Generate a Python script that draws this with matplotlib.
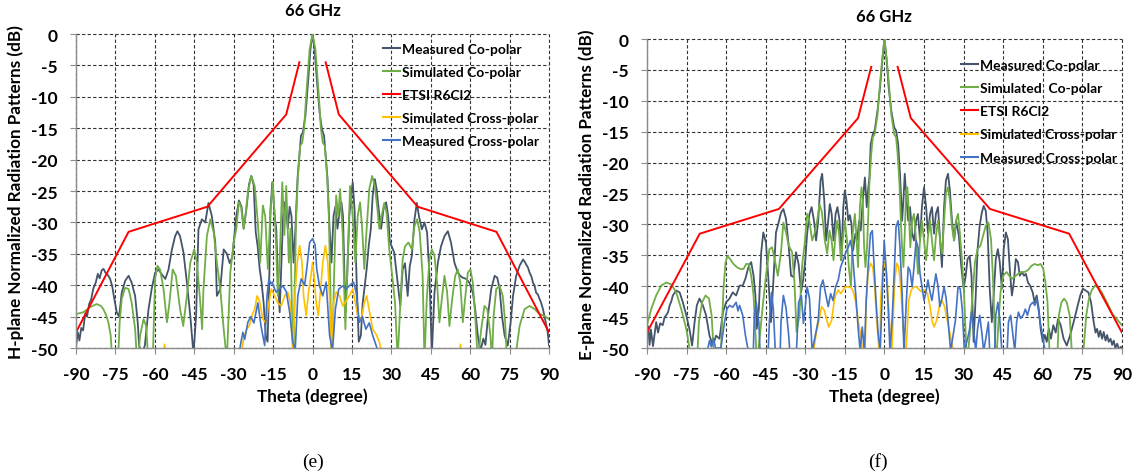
import numpy as np
import matplotlib
matplotlib.use('Agg')
import matplotlib.pyplot as plt

plt.rcParams['font.family'] = ['Lato', 'DejaVu Sans']
plt.rcParams['font.weight'] = 'bold'
plt.rcParams['axes.unicode_minus'] = False

# ETSI R6Cl2 mask (same on both planes), gap in the middle
etsi_theta = [-90, -70, -40, -10, -5, np.nan, 5, 10, 40, 70, 90]
etsi_db = [-47.5, -31.5, -27.5, -12.8, -4.5, np.nan, -4.5, -12.8, -27.5, -31.5, -47.5]

# ---------------- H-plane (e) ----------------
h_meas_co = [
    (-90, -49.8), (-89.3, -47.5), (-88.7, -48.8), (-88, -46.8), (-87.3, -47.2), (-86.5, -44.5),
    (-85.8, -45), (-85, -43), (-84.2, -42.2), (-83.4, -40.5), (-82.5, -39.6), (-81.7, -38.2),
    (-81, -38.9), (-80.2, -37.6), (-79.5, -37.4), (-78.8, -38), (-78, -38.3), (-77, -39),
    (-76.2, -40.2), (-75.5, -42), (-74.5, -44.3), (-73.6, -45), (-72.6, -41.2), (-71.3, -39.3),
    (-70, -38.5), (-68.8, -39.6), (-67.5, -41.7), (-66.5, -46), (-66, -49.5), (-65, -51),
    (-63.8, -49.6), (-62.4, -43.8), (-61.2, -40.6), (-59.9, -38), (-58.6, -37.5), (-57.3, -38.3),
    (-56, -39), (-54.8, -37.5), (-53.5, -34.3), (-52.3, -32.2), (-51.4, -31.4), (-50.4, -32.2),
    (-49.1, -34.8), (-47.8, -39.6), (-46.5, -44.9), (-45.3, -51), (-44.3, -44.9), (-43.4, -31.1),
    (-42.1, -29.5), (-40.8, -30), (-39.6, -26.9), (-38.3, -29), (-37, -33.2), (-36.4, -41.7),
    (-35.1, -40.6), (-33.8, -34.3), (-32.6, -35), (-31.5, -36.5), (-30.5, -35.5), (-30, -33.2),
    (-29, -29), (-28, -26.5), (-27, -27.5), (-26.2, -31), (-25.2, -28), (-24.2, -24),
    (-23.3, -22.6), (-22.4, -24), (-21.6, -31.6), (-20.9, -33.7), (-20.1, -37.4), (-19.4, -39.5),
    (-18.6, -42.8), (-17.8, -48), (-17.1, -49), (-16.5, -40), (-16, -28), (-15.3, -23.6),
    (-14.4, -29), (-13.8, -31), (-13.2, -38.5), (-12.5, -44.3), (-11.8, -36), (-11.2, -29),
    (-10.6, -26.8), (-10, -28.5), (-9.4, -31), (-8.7, -27.5), (-8, -29), (-7.2, -36.4),
    (-6.5, -31), (-5.7, -23), (-5.2, -20.4), (-4.4, -16.2), (-3.7, -15.7), (-2.7, -13),
    (-1.6, -7.2), (-0.8, -2.5), (0, 0), (0.8, -2.5), (1.6, -7), (2.7, -12.5),
    (3.6, -15.2), (4.4, -16.2), (5.2, -20.4), (5.7, -23), (6.5, -31), (7.2, -36.4),
    (8, -29), (8.7, -27.5), (9.5, -31), (10.2, -28.5), (11, -26.8), (11.6, -29),
    (12.5, -44.3), (13.2, -38.5), (14, -29), (14.7, -25.7), (15.3, -23.6), (16, -28),
    (16.8, -39.5), (17.6, -49), (18.4, -48), (19.1, -42.8), (19.9, -40), (20.6, -37.4),
    (21.4, -33.7), (22.2, -31), (22.9, -25.7), (23.7, -23.1), (24.4, -24.7), (25.2, -28),
    (26.1, -31), (27, -27.9), (28, -26.8), (28.8, -29), (29.4, -33), (30.3, -34),
    (31.1, -34.8), (32.4, -39.6), (33.4, -43.3), (34.3, -37.5), (35.2, -36.5), (36.2, -41.7),
    (37, -37), (37.8, -35.3), (38.8, -29.5), (39.7, -26.9), (40.5, -29), (41.6, -31.1),
    (42.6, -30), (43.6, -31.6), (44.5, -38.5), (45.4, -51), (46.4, -41.2), (47.7, -36.4),
    (48.9, -33.8), (50.2, -32.2), (51.5, -31.4), (52.7, -33.2), (54, -36.4), (55.3, -38),
    (56.2, -38.5), (57.2, -38.8), (58.5, -39), (59.7, -39.6), (61, -41.2), (61.9, -43.8),
    (62.9, -48), (63.9, -50.5), (65, -48.5), (65.8, -49.5), (67, -44), (68, -40.6),
    (69.3, -38.5), (70.3, -38.8), (71.2, -40.6), (72.1, -44.9), (73.1, -48), (74.3, -49.6),
    (75.4, -45.9), (76.3, -41.7), (77.5, -38.5), (78.8, -36.9), (80.1, -35.9), (80.8, -36.3),
    (81.3, -36.7), (82, -37.2), (82.6, -38), (83.3, -38.6), (83.9, -39.6), (84.5, -40.1),
    (85.1, -41.2), (85.8, -41.5), (86.4, -42.2), (87, -42.8), (87.7, -43.8), (88.3, -45),
    (89, -46.5), (89.5, -47.5), (90, -49.6),
]

h_sim_co = [
    (-90, -44.6), (-87.2, -44.3), (-84.7, -43.5), (-82.1, -43), (-80.5, -43.3), (-79.6, -43.8),
    (-78.5, -44.8), (-77.7, -45.9), (-76.8, -48), (-76.2, -52), (-74, -52), (-73.4, -46),
    (-72.6, -42.2), (-71.3, -40.4), (-70, -40.6), (-68.8, -42.8), (-67.5, -47), (-66.8, -52),
    (-66, -50), (-65.6, -48), (-64.3, -45.4), (-63.3, -46.5), (-62.5, -52), (-60.8, -52),
    (-59.9, -39), (-59, -36.9), (-58, -37.5), (-56.7, -40.6), (-55.4, -45.9), (-54.5, -43),
    (-53.2, -37.5), (-52, -38.5), (-50.4, -43.8), (-49.2, -46.5), (-47.8, -41.7), (-46.5, -36.4),
    (-45, -34.3), (-44, -36.4), (-42.7, -42.8), (-42, -47), (-41.5, -40.6), (-40.2, -32.2),
    (-38.9, -29.5), (-37.6, -31.6), (-36.4, -36.4), (-35.1, -40.6), (-33.8, -47), (-32.6, -52),
    (-31.3, -38), (-30, -33.2), (-29, -31), (-28, -26.8), (-27.2, -27.5), (-26.2, -31),
    (-25.4, -28.5), (-24.6, -25.2), (-23.3, -22.6), (-22, -24.2), (-20.8, -30), (-19.9, -36.4),
    (-18.9, -27.3), (-18, -29), (-17, -37.4), (-16.1, -29), (-15.1, -23.6), (-14, -32),
    (-13.2, -41.7), (-12.5, -36), (-11.5, -23.6), (-10.7, -32), (-10, -24.2), (-9, -36.4),
    (-8.4, -31), (-7.7, -47), (-7.2, -52), (-6.8, -40.6), (-6.2, -28.9), (-5.6, -23),
    (-4.7, -17.8), (-3.9, -17.3), (-3.2, -15.1), (-2.4, -9.8), (-1.1, -2.4), (0, 0),
    (1.1, -2.4), (2.4, -9.8), (3.2, -15.1), (3.9, -17.3), (4.7, -17.8), (5.6, -23),
    (6.2, -28.9), (6.8, -40.6), (7.2, -52), (7.7, -47), (8.3, -37), (9, -25.7),
    (9.8, -29), (10.5, -24.7), (11.5, -32), (12.5, -47), (13.3, -37), (14.3, -24.2),
    (15.3, -29), (16.3, -36.4), (17.2, -29), (18.1, -26.8), (18.9, -31), (19.7, -37.4),
    (20.6, -31), (21.6, -24.7), (22.7, -22.6), (23.7, -24.2), (24.7, -27.9), (25.4, -31),
    (26.3, -29), (27.3, -26.9), (28.2, -28.5), (29.2, -34.3), (30.2, -38), (31.4, -42.8),
    (32.4, -52), (33.4, -43), (34.3, -35.9), (35.2, -33.8), (36.5, -33.2), (37.8, -34.3),
    (38.8, -30.6), (39.8, -29.5), (40.8, -31.6), (41.9, -38.5), (42.6, -52), (43.5, -42),
    (44.5, -35.9), (45.4, -34.3), (46.4, -35.3), (47.4, -39.6), (48.3, -45.9), (49.2, -42.2),
    (50.2, -38.5), (51.2, -41), (52.1, -46.5), (53.2, -42), (54.3, -38.5), (55.3, -37.5),
    (56.2, -39.5), (57.2, -45.9), (58.1, -42), (59.1, -38), (60.1, -37.5), (61, -39.6),
    (61.9, -44.9), (62.9, -52), (64.2, -47), (65.4, -43.3), (66.5, -43.8), (67.7, -48),
    (68.3, -52), (68.9, -45), (69.9, -40.6), (71.2, -40.1), (72.4, -41.7), (73.3, -45.9),
    (74, -52), (77.5, -50.5), (78.8, -46.5), (80.7, -43.8), (82.6, -43.3), (84.5, -43.8),
    (86.4, -44.6), (88.3, -44.9), (90, -45.4),
]

h_sim_cross = [
    (-57, -52), (-56.3, -49.4), (-55.6, -52), (-27.5, -52), (-27, -50.5), (-26, -48),
    (-25, -47), (-24, -46.4), (-22.8, -44.5), (-22, -43.8), (-21.1, -41.7), (-20.2, -42.5),
    (-18.9, -45.4), (-17.8, -46), (-16.6, -42.8), (-15.7, -40.6), (-14.4, -41.7), (-13.2, -42.8),
    (-11.9, -43.3), (-10.6, -41.7), (-9.4, -41.1), (-8.5, -42.8), (-7.5, -51), (-6.6, -41),
    (-5.8, -36.4), (-4.9, -33.7), (-4, -36.4), (-3.4, -41.7), (-2.4, -44.8), (-1.5, -41),
    (-0.6, -38.5), (0, -36.4), (0.6, -38.5), (1.4, -42.8), (2.2, -44.8), (3, -41),
    (3.9, -36.4), (4.9, -33.7), (5.8, -36.4), (6.5, -42), (7.2, -51), (8, -42.8),
    (9, -41.1), (10.3, -41.7), (11.5, -43.3), (12.8, -42.5), (14, -41.7), (15.3, -40.6),
    (16.3, -42.8), (17.2, -44.8), (18.5, -45.5), (19.7, -42.8), (20.6, -41.7), (21.6, -44),
    (22.9, -47), (24.2, -47.8), (25.4, -49), (26.5, -51), (55.6, -52), (56.3, -49.4),
    (57, -52),
]

h_meas_cross = [
    (-28, -51), (-27.2, -49), (-26.5, -47.5), (-25.8, -48.6), (-24.6, -45.9), (-23.5, -45),
    (-22.3, -46), (-20.8, -42.8), (-19.6, -46.5), (-18.2, -49.6), (-17.3, -41.7), (-16.6, -39),
    (-15.9, -39.8), (-15.3, -39.5), (-14.5, -40.5), (-13.8, -41.1), (-12.6, -40.6), (-11.3, -40.1),
    (-10, -41), (-8.7, -44.3), (-7.5, -49), (-6.6, -50.5), (-5.6, -41.7), (-4.3, -39),
    (-3, -40), (-2.2, -37.4), (-1.1, -33.2), (0, -32.6), (1, -33.6), (1.6, -37.4),
    (2.6, -40), (3.9, -41.7), (5.2, -39.5), (6.5, -48), (7.6, -50.5), (8.7, -43.8),
    (10, -40.6), (11.5, -40.1), (12.8, -40.6), (14, -40.1), (15.6, -39.5), (16.6, -41.1),
    (17.2, -43.5), (17.8, -45.9), (19, -45), (20.3, -47), (21.6, -46), (22.9, -48),
    (24.2, -49.6), (25.4, -51),
]

# ---------------- E-plane (f) ----------------
e_meas_co = [
    (-90, -48), (-89.5, -46.5), (-89, -49.5), (-88.5, -47), (-87.7, -49.7), (-87, -47.5),
    (-86.5, -45.8), (-85.8, -47.5), (-85, -46), (-84, -46.3), (-83.3, -45), (-82.7, -44.7),
    (-82, -44.2), (-81.4, -43.1), (-80.8, -42.5), (-80.2, -41.5), (-78.9, -40.7), (-77.6, -41),
    (-76.4, -42.6), (-75.1, -44.7), (-73.9, -46.9), (-72.9, -49.6), (-72, -46), (-71.1, -43.1),
    (-70.1, -42), (-68.8, -43.1), (-67.6, -44.7), (-66.3, -48), (-65, -49.6), (-63.8, -48),
    (-62.5, -48.5), (-61.2, -44.2), (-60, -42.6), (-58.7, -42), (-57.5, -41), (-56.2, -41.5),
    (-54.9, -39.9), (-53.7, -39.9), (-52.7, -38.8), (-51.4, -36.7), (-50.5, -36.1), (-49.6, -38.3),
    (-48.9, -41.5), (-48.4, -46.9), (-47.6, -43.7), (-46.7, -34.5), (-45.9, -31.3), (-44.9, -32.9),
    (-43.9, -39.4), (-43, -45.8), (-42.2, -40), (-41.1, -31.3), (-40.1, -29.7), (-39.2, -28.1),
    (-38.3, -27.5), (-37.3, -29.1), (-36.3, -33.4), (-35.4, -38.3), (-34.5, -38.5), (-33.5, -34.5),
    (-32.5, -36.5), (-31.6, -41), (-30.8, -39), (-30, -35.8), (-29.3, -31.5), (-28.4, -28.3),
    (-27.6, -27.2), (-26.7, -29.4), (-25.9, -32.6), (-25.1, -29.4), (-24.2, -22.9), (-23.6, -21.8),
    (-22.8, -26.1), (-22.1, -32.6), (-21.3, -29.4), (-20.7, -26.7), (-20, -28.3), (-19.3, -32.6),
    (-18.5, -28.3), (-17.8, -27.2), (-17, -29.4), (-16.3, -35.8), (-15.6, -27.2), (-15, -24.5),
    (-14.4, -26.1), (-13.7, -29.4), (-13.1, -28.5), (-12.5, -29.9), (-11.9, -34.2), (-11, -31.5),
    (-10.3, -32.5), (-9.6, -29.4), (-9, -31), (-8.2, -26.1), (-7.4, -22.4), (-6.7, -27.2),
    (-6.1, -24), (-5.7, -22.4), (-5.2, -17), (-4.4, -15.4), (-3.7, -14.8), (-2.6, -11.5),
    (-1.6, -7.5), (-0.8, -3.5), (0, 0), (0.8, -3.2), (1.6, -7.8), (2.6, -11.6),
    (3.7, -14.3), (4.4, -14.8), (5.2, -17), (5.9, -21.8), (6.7, -29.4), (7.2, -26),
    (7.7, -21.8), (8.2, -25), (9, -29.4), (9.7, -27.2), (10.5, -31.5), (11.2, -32.6),
    (12, -29.4), (12.7, -28.3), (13.5, -32.6), (14.2, -27.2), (15, -24), (15.8, -27.2),
    (16.5, -31.5), (17.3, -28.3), (18, -27.2), (18.8, -31.5), (19.5, -28.3), (20.3, -27.2),
    (21.1, -32.6), (21.8, -36.9), (22.6, -27.2), (23.3, -22.9), (24.1, -21.8), (24.8, -24.5),
    (25.6, -29.4), (26.4, -32.6), (27.2, -29.5), (28.2, -31.8), (29.1, -36.7), (30, -40.4),
    (30.8, -38.3), (31.5, -35.6), (32.3, -35.1), (33, -38.3), (33.8, -49), (34.6, -41.5),
    (35.3, -34), (36.1, -30.2), (36.9, -28.1), (37.6, -27), (38.4, -27.8), (39.1, -31.3),
    (39.9, -40.4), (40.7, -45.8), (41.4, -41.5), (42.2, -35.6), (43, -34), (43.7, -36.1),
    (44.5, -40.4), (45.2, -34), (46, -31.3), (46.8, -32.4), (47.5, -37.2), (48.3, -41.5),
    (49, -39.5), (49.8, -35.6), (50.6, -36.1), (51.3, -38.3), (52.1, -37.7), (52.9, -38.3),
    (53.6, -38), (54.4, -39.4), (55.2, -39.9), (56.2, -41), (56.9, -42.6), (57.7, -41.5),
    (58.5, -43.7), (59.2, -46.9), (60, -49), (60.8, -47.9), (61.5, -49), (62.3, -46.9),
    (63.1, -48.5), (64, -46.3), (64.9, -47.5), (65.8, -45.3), (66.8, -46.3), (67.9, -48.5),
    (69.1, -49.6), (70.4, -47.9), (71.7, -45.8), (72.9, -43.7), (74.2, -41.5), (75.2, -40.4),
    (76.3, -40.7), (77.3, -41), (78.3, -42.6), (79.3, -45.8), (80, -47.5), (80.6, -46.9),
    (81.2, -48.2), (81.8, -47.2), (82.5, -48.5), (83.1, -47.4), (83.8, -48.8), (84.4, -47.9),
    (85, -49), (85.7, -48.5), (86.3, -49.5), (86.9, -48.8), (87.5, -50), (88.2, -49.3),
    (88.9, -50.2), (89.7, -49.8), (90, -50.5),
]

e_sim_co = [
    (-90, -46.3), (-88.4, -43.7), (-86.5, -41.5), (-84.6, -39.9), (-82.7, -39.4), (-80.8, -39.7),
    (-78.9, -41), (-77, -43.7), (-75.1, -46.9), (-73.9, -50), (-73.5, -52), (-71, -52),
    (-70.3, -45.8), (-69.1, -42.6), (-67.8, -41.5), (-66.5, -42), (-65.5, -44.7), (-64.8, -50),
    (-64.5, -52), (-62.2, -52), (-61.9, -50), (-61, -40.4), (-60.2, -36.1), (-59.5, -35.1),
    (-58.5, -35.6), (-57.2, -36.4), (-56, -36.9), (-54.7, -37.2), (-53.4, -37.2), (-52.4, -36.4),
    (-51.4, -36.4), (-50.5, -38.3), (-49.6, -41.5), (-48.6, -50), (-48.2, -52), (-47.2, -48),
    (-46.1, -43.1), (-44.9, -38.3), (-43.6, -34), (-42.6, -33.7), (-41.6, -35.6), (-40.4, -38.3),
    (-39.2, -34.5), (-38.3, -29.7), (-37.3, -31.3), (-36.3, -33.4), (-35, -34.5), (-34.1, -39.4),
    (-33.3, -47.4), (-32.2, -44.7), (-31.2, -36.7), (-30.2, -33), (-29.3, -28.3), (-28.4, -29.5),
    (-27.4, -32.6), (-26.5, -31.5), (-25.5, -29.4), (-24.6, -26.7), (-23.7, -28), (-22.6, -32.6),
    (-21.7, -34.7), (-20.8, -31), (-20, -32.6), (-19.3, -35.8), (-18.6, -32), (-17.9, -29.4),
    (-17.2, -31.5), (-16.5, -35.8), (-15.8, -32.5), (-15, -29.4), (-14.2, -32.5), (-13.5, -36.9),
    (-12.7, -40.1), (-12, -31.5), (-11.2, -28.3), (-10.6, -32), (-10, -36.9), (-9.3, -27.2),
    (-8.7, -24), (-8.2, -26), (-7.7, -33.7), (-7.2, -36.9), (-6.6, -33.7), (-6.2, -29.4),
    (-5.7, -23.4), (-5, -18.6), (-4.4, -15.9), (-3.7, -15.4), (-2.6, -12.2), (-1.8, -7.8),
    (-0.9, -3.5), (0, 0), (0.9, -3.5), (1.8, -7.8), (2.6, -12.2), (3.7, -15.4),
    (4.4, -15.9), (5, -18.6), (5.7, -23.4), (6.2, -29.4), (6.7, -33.7), (7.2, -36.9),
    (7.7, -31.5), (8.2, -24.5), (8.7, -24), (9.2, -27.5), (9.8, -33.7), (10.5, -29.4),
    (11.2, -28.3), (12, -32.6), (12.7, -38), (13.5, -32.5), (14.2, -29.4), (15, -32.6),
    (15.8, -35.8), (16.5, -32), (17.3, -29.4), (18, -32.6), (18.8, -35.8), (19.5, -32),
    (20.3, -29.4), (21.1, -32.6), (21.8, -34.7), (22.6, -29.4), (23.3, -25), (24.1, -24),
    (24.8, -26.1), (25.6, -30.4), (26.4, -32.6), (27.1, -29.4), (27.9, -28.3), (28.6, -31.5),
    (29.4, -35.8), (30.1, -40.5), (31, -50), (31.4, -52), (32.3, -48), (33.3, -42),
    (34.3, -36.1), (35.3, -34), (36.4, -33.4), (37.4, -31.8), (38.4, -30.2), (39.4, -29.7),
    (40.4, -32.4), (41.2, -39.4), (42, -50), (42.4, -52), (43.2, -46), (44, -41),
    (45, -38.3), (46.3, -37.7), (47.3, -38.3), (48.3, -38.8), (49.3, -38.5), (50.6, -38),
    (51.9, -37.7), (53.1, -37.7), (54.4, -37.4), (55.7, -36.7), (56.9, -36.4), (58.2, -36.6),
    (59.2, -36.4), (60.2, -37.2), (61, -39.4), (61.8, -42.6), (62.5, -50), (62.8, -52),
    (65.5, -52), (66.1, -44.7), (67.1, -42.6), (68.1, -42), (69.1, -42.6), (70.2, -44.7),
    (70.9, -50), (71.2, -52), (75.2, -52), (75.5, -50), (76.5, -44.7), (77.5, -42),
    (78.5, -40.7), (79.8, -39.9), (81.1, -40.2), (82.4, -41), (83.6, -42), (84.9, -43.1),
    (86.4, -44.5), (88, -45.3), (90, -46.3),
]

e_sim_cross = [
    (-27, -52), (-26.7, -50), (-25.8, -47.5), (-24.8, -45.5), (-23.8, -43.3), (-22.8, -43.9),
    (-21.8, -45.5), (-21.1, -46.6), (-20, -45.5), (-19, -42.3), (-18.3, -41.2), (-17.5, -40.6),
    (-16.6, -41.2), (-15.6, -40.6), (-14.8, -40.1), (-13.7, -40.1), (-12.8, -40.2), (-12, -40.6),
    (-11, -42.3), (-10, -45.5), (-9.1, -47.6), (-8.4, -50), (-8, -52), (-7.3, -50),
    (-6.9, -42.3), (-6.2, -38), (-5.3, -36.3), (-4.4, -36.9), (-3.7, -40.1), (-2.9, -45.5),
    (-2.1, -50), (-1.8, -52), (-1.4, -42.3), (-0.6, -36.9), (0.1, -36.3), (0.9, -38),
    (1.6, -43.3), (2.4, -50), (2.7, -52), (3.2, -46), (3.9, -39), (4.7, -36.3),
    (5.4, -36.9), (6.2, -40.1), (6.9, -45.5), (7.7, -50), (8, -52), (8.5, -48),
    (9.2, -42.3), (10.2, -40.6), (11.2, -40.1), (12.2, -40.1), (13.2, -40.6), (14.2, -40.9),
    (15.3, -40.6), (16.3, -41.2), (17.3, -43.3), (18, -45.5), (18.8, -46.6), (19.8, -45.5),
    (20.8, -43.3), (21.8, -42.3), (22.8, -43.3), (23.8, -45.5), (24.8, -47.6), (25.9, -50),
    (26.2, -52),
]

e_meas_cross = [
    (-67, -52), (-66.9, -50), (-66.3, -48.8), (-65.6, -49.8), (-64.8, -48.5), (-64, -50),
    (-62, -50), (-60.6, -45.8), (-59.7, -43.7), (-58.7, -43.1), (-57.5, -43.4), (-56.2, -42.6),
    (-55.5, -44), (-54.9, -43.1), (-53.7, -44.7), (-52.7, -47.9), (-51.8, -50), (-51.5, -52),
    (-49.8, -52), (-49.3, -44.7), (-48.6, -42.6), (-47.6, -45.8), (-47, -52), (-44.2, -52),
    (-43.6, -45.8), (-42.8, -41), (-42.1, -43.7), (-41.2, -52), (-39.6, -52), (-39.2, -45.8),
    (-38.3, -41.5), (-37.3, -43.5), (-36.3, -47.9), (-35.6, -52), (-33.5, -52), (-32.5, -42.6),
    (-31.5, -41.5), (-30.7, -46), (-30, -43.3), (-29.3, -40.1), (-28.4, -42), (-27.4, -50.5),
    (-26.2, -48), (-25.1, -45.5), (-24.2, -40.1), (-23.3, -39), (-22.3, -41.2), (-21.3, -43.3),
    (-20.4, -41.2), (-19.5, -42.3), (-18.5, -40.1), (-17.5, -39), (-16.6, -36.9), (-15.6, -35.8),
    (-14.8, -34.7), (-13.7, -33.7), (-12.9, -32.6), (-12.2, -34.2), (-11.5, -38), (-10.7, -42.3),
    (-10, -46.6), (-9.2, -50.5), (-8.4, -46.6), (-7.6, -50.5), (-6.9, -42.3), (-6.2, -36.9),
    (-5.3, -31.5), (-4.6, -31), (-3.9, -36.9), (-3.2, -42.3), (-2.4, -47.6), (-1.6, -50.5),
    (-0.9, -42.3), (-0.1, -32.6), (0.6, -36.9), (1.4, -43.3), (2.1, -50.5), (2.9, -45.5),
    (3.7, -38), (4.4, -30.4), (5.2, -29.4), (5.9, -33.7), (6.7, -41.2), (7.4, -50.5),
    (8.2, -43.3), (9, -36.9), (9.7, -37.5), (10.5, -40.1), (11.2, -36.9), (12, -32.6),
    (12.7, -33.7), (13.5, -38), (14.2, -40), (15, -42.3), (15.7, -41), (16.5, -39),
    (17.3, -41), (18, -42.3), (18.8, -40), (19.5, -38), (20.3, -40), (21, -43.3),
    (21.8, -42), (22.6, -40.1), (23.4, -42), (24.1, -45.5), (25.1, -50.5), (26, -48),
    (26.9, -45.5), (27.9, -40.1), (28.7, -40.4), (29.5, -43.7), (30.3, -50.5), (31.5, -48.5),
    (32.3, -46.9), (33, -44.2), (33.8, -47), (34.6, -50.5), (35.3, -46.9), (36.1, -44.7),
    (36.9, -47.5), (37.6, -50.5), (38.6, -48), (39.4, -45.8), (39.9, -50.5), (41.8, -50.5),
    (42.2, -44.7), (43, -42.6), (43.7, -45.3), (44.5, -50.5), (46.5, -50.5), (47, -45.8),
    (47.8, -44.7), (48.6, -47.5), (49.4, -50.5), (50.1, -45.8), (50.8, -44.2), (51.6, -45.2),
    (52.6, -44.7), (53.4, -43.7), (54.2, -44.7), (55.2, -43.1), (56.2, -42.6), (57, -43.1),
    (57.7, -42), (58.5, -44.2), (59.2, -46.3), (60, -47.9), (60.8, -50.5),
]

h_labels = ['Measured Co-polar', 'Simulated Co-polar', 'ETSI R6Cl2',
            'Simulated Cross-polar', 'Measured Cross-polar']
e_labels = ['Measured Co-polar', 'Simulated  Co-polar', 'ETSI R6Cl2',
            'Simulated Cross-polar', 'Measured Cross-polar']

c_meas_co = '#44546A'
c_sim_co = '#70AD47'
c_etsi = '#FF0000'
c_sim_x = '#FFC000'
c_meas_x = '#4472C4'


def draw_panel(ax, meas_co, sim_co, sim_x, meas_x, labels, ylabel, leg_xy, title_pad):
    th, db = np.array(meas_co).T
    ax.plot(th, db, color=c_meas_co, lw=1.3, label=labels[0])
    th, db = np.array(sim_co).T
    ax.plot(th, db, color=c_sim_co, lw=1.3, label=labels[1])
    ax.plot(etsi_theta, etsi_db, color=c_etsi, lw=1.4, label=labels[2])
    th, db = np.array(sim_x).T
    ax.plot(th, db, color=c_sim_x, lw=1.2, label=labels[3])
    th, db = np.array(meas_x).T
    ax.plot(th, db, color=c_meas_x, lw=1.2, label=labels[4])

    ax.set_xlim(-90, 90)
    ax.set_ylim(-50, 0)
    ax.set_xticks(range(-90, 91, 15))
    ax.set_yticks(range(-50, 1, 5))
    ax.tick_params(axis='x', direction='out', length=4, width=0.8, color='#8c8c8c',
                   labelsize=12.5, pad=9)
    ax.tick_params(axis='y', direction='out', length=4, width=0.8, color='#8c8c8c',
                   labelsize=12.5, pad=9)
    for lab in ax.get_xticklabels() + ax.get_yticklabels():
        lab.set_fontweight('bold')
    ax.grid(True, color='#333333', linestyle=(0, (3, 2)), linewidth=0.8)
    for gl in ax.get_xgridlines() + ax.get_ygridlines():
        gl.set_clip_on(False)
    for s in ['top', 'right']:
        ax.spines[s].set_visible(False)
    for s in ['left', 'bottom']:
        ax.spines[s].set_color('#8c8c8c')
        ax.spines[s].set_linewidth(1.0)
    ax.set_axisbelow(True)

    ax.set_title('66 GHz', fontsize=12, fontweight='bold', pad=title_pad)
    ax.set_xlabel('Theta (degree)', fontsize=12.3, fontweight='bold', labelpad=4)
    ax.set_ylabel(ylabel, fontsize=12.3, fontweight='bold', labelpad=5)

    leg = ax.legend(loc='upper left', bbox_to_anchor=leg_xy, frameon=False,
                    fontsize=10, handlelength=1.2, handletextpad=0.15,
                    labelspacing=0.8, borderpad=0, borderaxespad=0)
    for t in leg.get_texts():
        t.set_fontweight('bold')
    for h in leg.get_lines():
        h.set_linewidth(1.5)


fig = plt.figure(figsize=(11.36, 4.77), dpi=100)
ax1 = fig.add_axes([0.0669, 0.2683, 0.4164, 0.6583])
ax2 = fig.add_axes([0.5695, 0.2683, 0.4181, 0.6478])

draw_panel(ax1, h_meas_co, h_sim_co, h_sim_cross, h_meas_cross, h_labels,
           'H-plane Normalized Radiation Patterns (dB)', (0.649, 0.972), 14)
draw_panel(ax2, e_meas_co, e_sim_co, e_sim_cross, e_meas_cross, e_labels,
           'E-plane Normalized Radiation Patterns (dB)', (0.661, 0.935), 13)

fig.text(313 / 1136, 1 - 462 / 477, '(e)', ha='center', va='center',
         fontsize=14, fontweight='normal', family='Liberation Serif')
fig.text(878 / 1136, 1 - 462 / 477, '(f)', ha='center', va='center',
         fontsize=14, fontweight='normal', family='Liberation Serif')

fig.savefig('out.png', dpi=100, facecolor='white')
